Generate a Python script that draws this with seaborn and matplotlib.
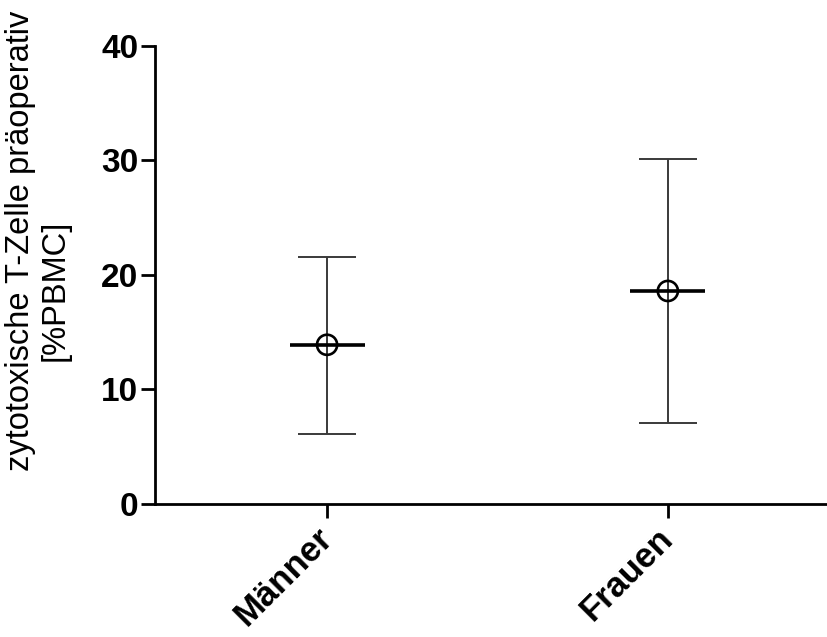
import matplotlib
matplotlib.use("Agg")
import matplotlib.pyplot as plt
import seaborn as sns
import pandas as pd
import numpy as np

categories = ["Männer", "Frauen"]
means = [13.9, 18.6]
upper = [21.6, 30.1]
lower = [6.1, 7.1]
yticks = [0, 10, 20, 30, 40]
ylabel_line1 = "zytotoxische T-Zelle präoperativ"
ylabel_line2 = "[%PBMC]"

df = pd.DataFrame({"Gruppe": categories, "Wert": means,
                   "upper": upper, "lower": lower})

sns.set_style("ticks")
plt.rcParams["font.family"] = ["Liberation Sans", "DejaVu Sans"]
plt.rcParams["text.color"] = "black"
plt.rcParams["axes.labelcolor"] = "black"
plt.rcParams["xtick.color"] = "black"
plt.rcParams["ytick.color"] = "black"

fig = plt.figure(figsize=(8.27, 6.37), dpi=100)
ax = fig.add_axes([0.1874, 0.2088, 0.8126, 0.7192])

# error bars (whiskers)
xpos = np.arange(len(categories))
yerr = np.array([df["Wert"] - df["lower"], df["upper"] - df["Wert"]])
ax.errorbar(xpos, df["Wert"], yerr=yerr, fmt="none", ecolor="#3a3a3a",
            elinewidth=1.4, capsize=21, capthick=1.4, zorder=2)
# mean line
ax.errorbar(xpos, df["Wert"], fmt="none", xerr=0.11, ecolor="black",
            elinewidth=2.6, capsize=0, zorder=3)
# open circle marker
sns.scatterplot(data=df, x="Gruppe", y="Wert", ax=ax, marker="o", s=210,
                facecolor="none", edgecolor="black", linewidth=1.9, zorder=4,
                legend=False)

ax.set_xlim(-0.505, 1.467)
ax.set_ylim(0, 40)
ax.set_yticks(yticks)
ax.set_yticklabels([str(t) for t in yticks], fontsize=24, fontweight="bold")
ax.set_xticks(xpos)
ax.set_xticklabels(categories, fontsize=25, fontweight="bold", rotation=45,
                   ha="right", va="center", rotation_mode="anchor")
ax.set_xlabel("")
ax.set_ylabel("")

# two-line y label (placed as in reference)
fig.text(21 / 827, 1 - 241 / 637, ylabel_line1, rotation=90, fontsize=23.5,
         ha="center", va="center", color="black")
fig.text(55 / 827, 1 - 290 / 637, ylabel_line2, rotation=90, fontsize=23.5,
         ha="center", va="center", color="black")

for s in ["top", "right"]:
    ax.spines[s].set_visible(False)
for s in ["left", "bottom"]:
    ax.spines[s].set_linewidth(2)
    ax.spines[s].set_color("black")
ax.tick_params(axis="y", width=2, length=10, color="black", pad=2)
ax.tick_params(axis="x", width=2, length=10, color="black", pad=11)

fig.savefig("out.png", dpi=100)
